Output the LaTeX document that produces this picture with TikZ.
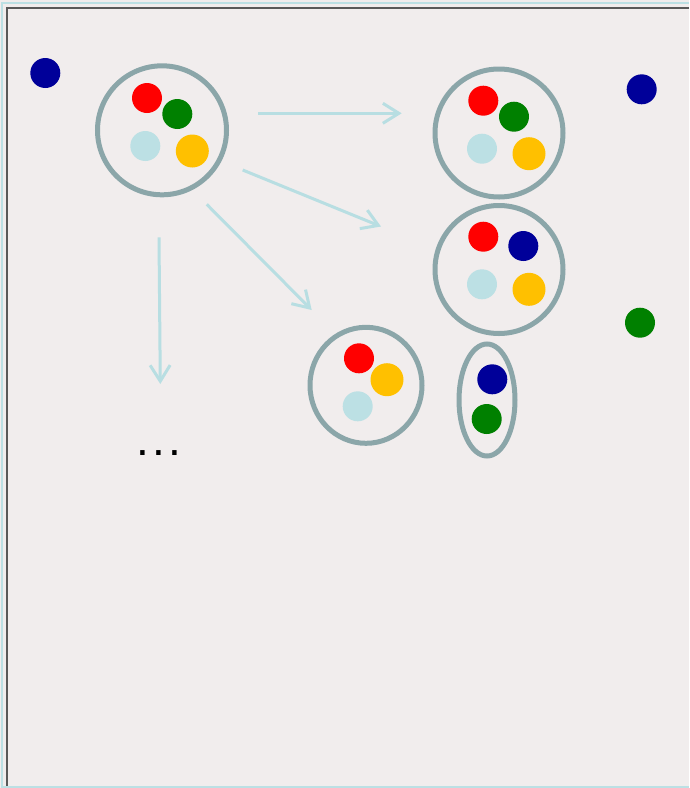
\documentclass[tikz,border=0pt]{standalone}
\usepackage{fontspec}
\setmainfont{Liberation Sans}
\usetikzlibrary{arrows.meta,shapes.geometric}
\definecolor{pagebg}{RGB}{241,237,237}
\definecolor{framegray}{RGB}{89,89,89}
\definecolor{paleblue}{RGB}{188,224,228}
\definecolor{ringgray}{RGB}{139,166,169}
\definecolor{ballred}{RGB}{255,0,0}
\definecolor{ballgreen}{RGB}{0,128,0}
\definecolor{ballblue}{RGB}{0,0,153}
\definecolor{ballyellow}{RGB}{255,192,0}
\definecolor{ballpale}{RGB}{188,224,228}
\definecolor{arrowblue}{RGB}{184,222,226}
\begin{document}
\begin{tikzpicture}[x=1pt,y=-1pt,
  ball/.style={circle,inner sep=0pt,outer sep=0pt,minimum size=30pt,fill=#1},
  bigball/.style={ball=#1,minimum size=33pt},
  ring/.style={circle,draw=ringgray,line width=5pt,inner sep=0pt,minimum size=#1},
  oval/.style={ellipse,draw=ringgray,line width=5pt,inner sep=0pt},
  flow/.style={draw=arrowblue,line width=3pt,-{Straight Barb[length=16pt,width=20pt]}}]
\useasboundingbox (0,0) rectangle (689,788);
\fill[pagebg] (0,0) rectangle (689,788);
% outer frame
\draw[paleblue,line width=2pt] (689,2.5) -- (2,2.5) -- (2,786.5) -- (689,786.5);
\draw[framegray,line width=2.2pt] (689,8) -- (7,8) -- (7,786);

% loose balls
\node[ball=ballblue] (loneblueL) at (45.3,73) {};
\node[ball=ballblue] (loneblueR) at (641.7,89.3) {};
\node[ball=ballgreen] (lonegreenR) at (640,322.7) {};

% full set
\node[ring=129pt] (setA) at (162,130.3) {};
\node[ball=ballred] (aR) at (147,98) {};
\node[ball=ballgreen] (aG) at (177.3,114) {};
\node[ball=ballpale] (aP) at (145.3,146) {};
\node[bigball=ballyellow] (aY) at (192.3,151) {};

% same set
\node[ring=128pt] (setB) at (499,133) {};
\node[ball=ballred] (bR) at (483.3,100.7) {};
\node[ball=ballgreen] (bG) at (514,116.7) {};
\node[ball=ballpale] (bP) at (482,148.7) {};
\node[bigball=ballyellow] (bY) at (529,153.7) {};

% green swapped for blue
\node[ring=128pt] (setC) at (499,269.5) {};
\node[ball=ballred] (cR) at (483.3,236.7) {};
\node[ball=ballblue] (cB) at (523.3,246) {};
\node[ball=ballpale] (cP) at (482,284.3) {};
\node[bigball=ballyellow] (cY) at (529,289.3) {};

% split into three and two
\node[oval,minimum width=112pt,minimum height=116pt] (setD) at (366,385.3) {};
\node[ball=ballred] (dR) at (359,358.3) {};
\node[bigball=ballyellow] (dY) at (387,379.7) {};
\node[ball=ballpale] (dP) at (357.7,406.3) {};

\node[oval,minimum width=56pt,minimum height=112pt] (setE) at (487,400) {};
\node[ball=ballblue] (eB) at (492.3,379.3) {};
\node[ball=ballgreen] (eG) at (486.7,419) {};

% arrow end points
\coordinate (s1) at (258.3,113.3);
\coordinate (t1) at (401.7,113.3);
\coordinate (s2) at (242.7,170);
\coordinate (t2) at (381,226.5);
\coordinate (s3) at (206.7,204.3);
\coordinate (t3) at (311.7,310);
\coordinate (s4) at (159,237.3);
\coordinate (t4) at (160.3,384);
\draw[flow] (s1) -- (t1);
\draw[flow] (s2) -- (t2);
\draw[flow] (s3) -- (t3);
\draw[flow] (s4) -- (t4);

\node[anchor=base,inner sep=0pt,font=\fontsize{46}{46}\selectfont] (more) at (159.3,455)
  {.\kern3.2pt.\kern3.2pt.};
\end{tikzpicture}
\end{document}
